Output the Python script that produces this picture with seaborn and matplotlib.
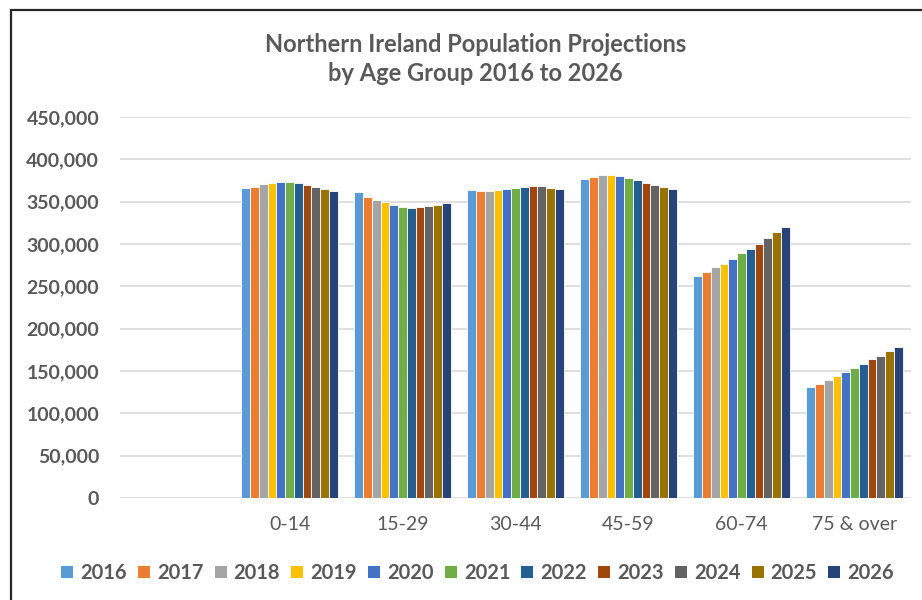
import matplotlib
matplotlib.use("Agg")
import matplotlib.pyplot as plt
from matplotlib.patches import Patch, Rectangle
from matplotlib.ticker import FuncFormatter
import seaborn as sns
import pandas as pd

age_groups = ["0-14", "15-29", "30-44", "45-59", "60-74", "75 & over"]
years = ["2016", "2017", "2018", "2019", "2020", "2021", "2022", "2023", "2024", "2025", "2026"]

pop_0_14 = [365800, 367000, 371000, 372300, 373400, 373400, 372300, 369900, 367000, 364600, 362300]
pop_15_29 = [361000, 356000, 352400, 349200, 346400, 344000, 342900, 344000, 345200, 346400, 348800]
pop_30_44 = [363400, 362300, 362300, 363400, 364600, 365800, 367000, 368200, 368200, 365800, 364600]
pop_45_59 = [377000, 379400, 381800, 381800, 380600, 377700, 375300, 371800, 369900, 367000, 364600]
pop_60_74 = [262700, 267500, 272600, 276500, 282500, 288900, 293600, 300000, 306800, 314300, 320600]
pop_75_over = [131400, 134200, 138900, 143700, 148800, 153600, 158800, 163600, 168300, 173100, 177800]

series = [pop_0_14, pop_15_29, pop_30_44, pop_45_59, pop_60_74, pop_75_over]
colors = ["#5B9BD5", "#ED7D31", "#A5A5A5", "#FFC000", "#4472C4", "#70AD47",
          "#255E91", "#9E480E", "#636363", "#997300", "#264478"]

rows = []
for g, vals in zip(age_groups, series):
    for y, v in zip(years, vals):
        rows.append({"age": g, "year": y, "pop": v})
df = pd.DataFrame(rows)

sns.set_style("white")
plt.rcParams["font.family"] = ["Lato", "DejaVu Sans"]
txt = "#595959"

fig = plt.figure(figsize=(9.22, 6.0), dpi=100)
ax = fig.add_axes([120 / 922, 1 - 498 / 600, (911 - 120) / 922, (498 - 117) / 600])

order = [""] + age_groups
sns.barplot(data=df, x="age", y="pop", hue="year", order=order, hue_order=years,
            palette=colors, saturation=1, width=0.85, edgecolor="white",
            linewidth=0.6, ax=ax, legend=False, errorbar=None)

ax.set_ylim(0, 450000)
ax.set_yticks(range(0, 450001, 50000))
ax.yaxis.set_major_formatter(FuncFormatter(lambda v, p: f"{int(v):,}"))
ax.grid(axis="y", color="#D9D9D9", linewidth=1.2)
ax.set_axisbelow(True)
for s in ax.spines.values():
    s.set_visible(False)
ax.tick_params(axis="both", length=0)
ax.tick_params(axis="y", pad=15, labelsize=14, labelcolor=txt)
ax.tick_params(axis="x", pad=13, labelsize=14, labelcolor=txt)
for lab in ax.get_yticklabels():
    lab.set_fontweight("bold")
ax.set_xlabel("")
ax.set_ylabel("")

fig.text(0.516, 1 - 59 / 600, "Northern Ireland Population Projections\nby Age Group 2016 to 2026",
         ha="center", va="center", fontsize=17, fontweight="bold", color=txt,
         linespacing=1.35)

handles = [Patch(facecolor=c, edgecolor="none") for c in colors]
leg = fig.legend(handles, years, loc="center", bbox_to_anchor=(0.518, 1 - 573 / 600),
                 ncol=11, frameon=False, handlelength=0.6, handleheight=0.6,
                 handletextpad=0.35, columnspacing=0.55,
                 prop={"size": 14.5, "weight": "bold"})
for t in leg.get_texts():
    t.set_color(txt)

border = Rectangle((11 / 922, -0.1), 1.2, 1.1 - 10 / 600, transform=fig.transFigure,
                   fill=False, edgecolor="#262626", linewidth=1.6)
fig.add_artist(border)

fig.savefig("out.png", dpi=100)
